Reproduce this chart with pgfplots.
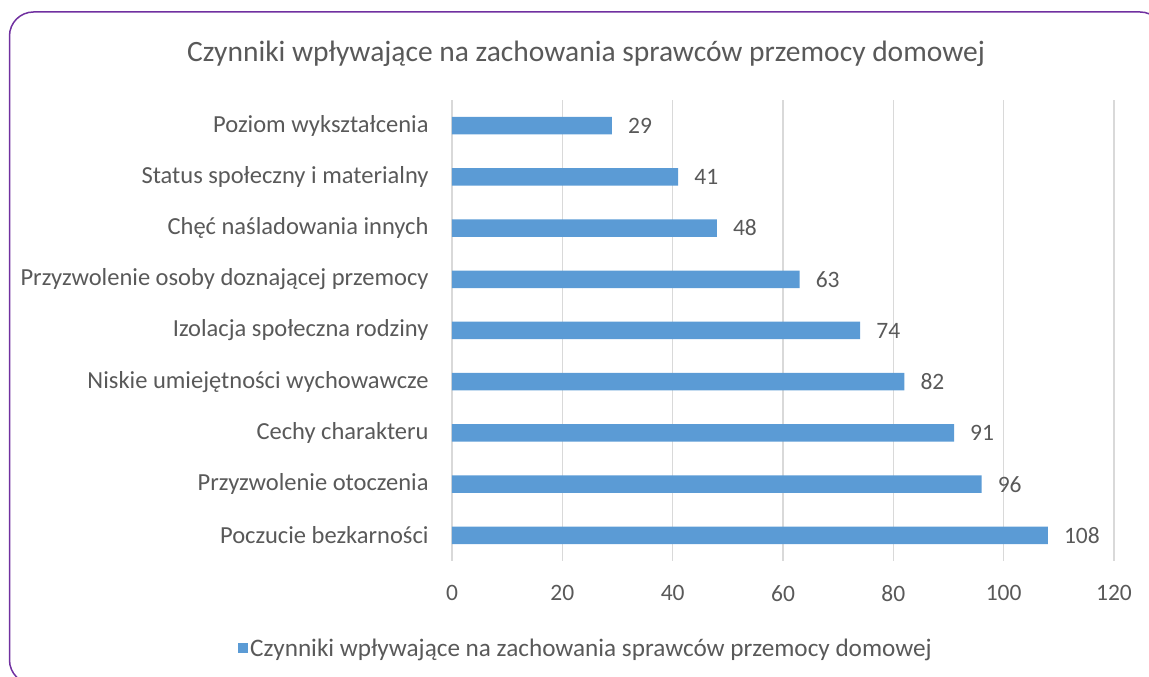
\documentclass[border=0pt]{standalone}
\usepackage{pgfplots}
\pgfplotsset{compat=1.18}
\usepackage{fontspec}
\setmainfont{Carlito}
\definecolor{txt}{HTML}{595959}
\definecolor{barc}{HTML}{5B9BD5}
\definecolor{gridc}{HTML}{D9D9D9}
\definecolor{framec}{HTML}{7030A0}
\begin{document}
\begin{tikzpicture}[x=1pt,y=1pt]
\useasboundingbox (0,0) rectangle (1149,677);
\begin{scope}
\clip (0,0) rectangle (1149,677);
\draw[framec, line width=1.5pt, rounded corners=24pt] (9.5,665) rectangle (1164,-7);
\end{scope}
\node[anchor=base, text=txt, font=\fontsize{29.5}{34}\selectfont, inner sep=0pt] at (586,615) {Czynniki wpływające na zachowania sprawców przemocy domowej};
\begin{axis}[at={(452pt,116pt)}, anchor=south west, width=662pt, height=461pt, scale only axis,
 xbar, bar width=17.5pt, xmin=0, xmax=120, ymin=-0.5, ymax=8.5,
 xtick={0,20,...,120}, ytick={0,...,8},
 yticklabels={Poczucie bezkarności, Przyzwolenie otoczenia, Cechy charakteru, Niskie umiejętności wychowawcze, Izolacja społeczna rodziny, Przyzwolenie osoby doznającej przemocy, Chęć naśladowania innych, Status społeczny i materialny, Poziom wykształcenia},
 axis line style={draw=none}, major tick style={draw=none},
 xmajorgrids, grid style={gridc, line width=1.2pt},
 /pgf/number format/assume math mode=true,
 ticklabel style={text=txt, font=\fontsize{23.5}{27}\selectfont, inner sep=0pt},
 yticklabel style={anchor=east, xshift=-19pt, font=\fontsize{24.5}{28}\selectfont},
 xticklabel style={anchor=north, yshift=-24pt},
 nodes near coords, every node near coord/.append style={anchor=west, xshift=16pt, inner sep=0pt, text=txt, font=\fontsize{23.5}{27}\selectfont},
 legend style={at={(0.2024,-0.189)}, anchor=center, draw=none, fill=none, font=\fontsize{25.2}{29}\selectfont, text=txt},
 legend image code/.code={\fill[barc] (-1pt,-5pt) rectangle (9pt,5pt);},
]
\addplot[fill=barc, draw=none] coordinates {(108,0) (96,1) (91,2) (82,3) (74,4) (63,5) (48,6) (41,7) (29,8)};
\addlegendentry{Czynniki wpływające na zachowania sprawców przemocy domowej}
\end{axis}
\end{tikzpicture}
\end{document}
